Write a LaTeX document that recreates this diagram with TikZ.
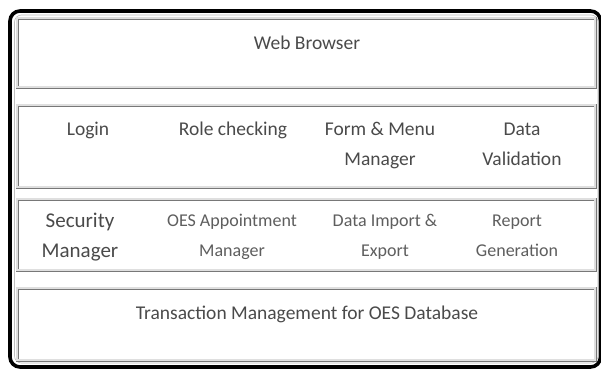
\documentclass[tikz,border=0pt]{standalone}
\usepackage{fontspec}
\setmainfont{Carlito}
\usepackage{tikz}
\usepackage{xcolor}
\definecolor{txtgray}{HTML}{4A4A4A}
\definecolor{lighttxt}{HTML}{5E5E5E}
\definecolor{edgegray}{HTML}{787878}
\newcommand{\lblfont}{\fontsize{19.5}{30}\selectfont}
\newcommand{\smlfont}{\fontsize{18}{30}\selectfont}

\begin{document}
\begin{tikzpicture}[x=1pt,y=-1pt,every node/.style={font=\lblfont,text=txtgray,align=center,anchor=base,inner sep=0pt},
  layerbox/.style={draw=edgegray,line width=0.9pt,double=gray!25,double distance=1.2pt},
  smalltxt/.style={font=\smlfont,text=lighttxt}]
\useasboundingbox (0,0) rectangle (601,370);
\fill[white] (0,0) rectangle (601,370);
\draw[line width=3.6pt,rounded corners=10pt] (10,11) rectangle (600.5,367);
\draw[gray!50,line width=0.6pt,rounded corners=7pt] (14.5,15) rectangle (598,363);
\draw[layerbox] (17,18) rectangle (595,87);
\node (web) at (307,49) {Web Browser};
\draw[layerbox] (17,105) rectangle (595,187);
\node (login) at (88,135) {Login};
\node (role) at (233,135) {Role checking};
\node (formmenu) at (380,165) {Form \& Menu\\Manager};
\node (datavalid) at (522,165) {Data\\Validation};
\draw[layerbox] (17,199) rectangle (595,270);
\node[font=\fontsize{21}{30}\selectfont] (secmgr) at (80,257) {Security\\Manager};
\node[smalltxt] (oesappt) at (232,256) {OES Appointment\\Manager};
\node[smalltxt] (dataimp) at (385,256) {Data Import \&\\Export};
\node[smalltxt] (report) at (517,256) {Report\\Generation};
\draw[layerbox] (17,288) rectangle (595,360);
\node (trans) at (307,319) {Transaction Management for OES Database};
\end{tikzpicture}
\end{document}
